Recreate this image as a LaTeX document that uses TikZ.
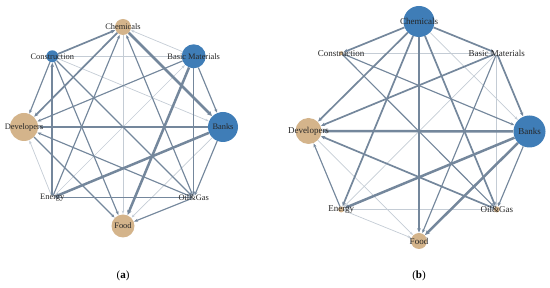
\documentclass[tikz,border=0pt]{standalone}
\usepackage{fontspec}
\setmainfont{Liberation Serif}
\usetikzlibrary{arrows.meta}
\definecolor{ntan}{HTML}{D4B48B}
\definecolor{nblue}{HTML}{3F7DB7}
\definecolor{edg}{HTML}{74879C}
\definecolor{elight}{HTML}{C4CCD5}
\begin{document}
\begin{tikzpicture}[x=1pt,y=-1pt,
  tn/.style={circle,fill=ntan,draw=none,inner sep=0pt,minimum size=#1},
  bn/.style={circle,fill=nblue,draw=none,inner sep=0pt,minimum size=#1},
  pn/.style={circle,draw=none,inner sep=0pt,minimum size=#1},
  lab/.style={inner sep=0pt,font=\fontsize{8.4}{10}\selectfont,text=black!85},
  labb/.style={inner sep=0pt,font=\fontsize{9}{11}\selectfont,text=black!85},
  e1/.style={draw=elight,line width=0.7pt,-{Stealth[length=3.5pt,width=2.6pt]},shorten >=0.3pt},
  e2/.style={draw=edg,line width=1.15pt,-{Stealth[length=3.8pt,width=3pt]},shorten >=0.3pt},
  e3/.style={draw=edg,line width=1.7pt,-{Stealth[length=4.2pt,width=3.6pt]},shorten >=0.3pt},
  e4/.style={draw=edg,line width=2.5pt,-{Stealth[length=4.8pt,width=4.4pt]},shorten >=0.3pt},
  capt/.style={inner sep=0pt,font=\fontsize{11}{13}\selectfont}]
\useasboundingbox (0,0) rectangle (550,288);
% ---------------- panel (a) ----------------
\node[tn=16pt] (aC)  at (123,27) {};
\node[bn=24pt] (aBM) at (193.7,56.3) {};
\node[bn=30pt] (aB)  at (223,127) {};
\node[pn=4pt]  (aO)  at (193.7,197.7) {};
\node[tn=23pt] (aF)  at (123,226) {};
\node[pn=4pt]  (aE)  at (52.3,197.7) {};
\node[tn=28pt] (aD)  at (24,127) {};
\node[bn=12pt] (aCo) at (52.3,56.3) {};
\begin{scope}
\draw[e1] (aCo) -- (aBM);
\draw[e1] (aCo) -- (aB);
\draw[e1] (aBM) -- (aC);
\draw[e1] (aC) -- (aF);
\draw[e1] (aE) -- (aBM);
\draw[e1] (aB) -- (aF);
\draw[e1] (aE) -- (aD);
\draw[e2] (aCo) -- (aO);
\draw[e2] (aCo) -- (aF);
\draw[e2] (aCo) -- (aD);
\draw[e2] (aO) -- (aC);
\draw[e2] (aE) -- (aC);
\draw[e2] (aBM) -- (aD);
\draw[e2] (aBM) -- (aB);
\draw[e2] (aBM) -- (aO);
\draw[e2] (aB) -- (aO);
\draw[e2] (aO) -- (aD);
\draw[e2] (aO) -- (aF);
\draw[e2] (aO) -- (aE);
\draw[e2] (aD) -- (aF);
\draw[e3] (aCo) -- (aC);
\draw[e3] (aE) -- (aCo);
\draw[e3] (aC) -- (aD);
\draw[e3] (aB) -- (aD);
\draw[e4] (aC) -- (aB);
\draw[e4] (aBM) -- (aF);
\draw[e4] (aB) -- (aE);
\end{scope}
\node[lab] (aCl)  at (aC)  {Chemicals};
\node[lab] (aBMl) at (aBM) {Basic Materials};
\node[lab] (aBl)  at (aB)  {Banks};
\node[lab] (aOl)  at (aO)  {Oil\&Gas};
\node[lab] (aFl)  at (aF)  {Food};
\node[lab] (aEl)  at (aE)  {Energy};
\node[lab] (aDl)  at (aD)  {Developers};
\node[lab] (aCol) at (aCo) {Construction};
\node[capt] (capa) at (123,276) {(\textbf{a})};
% ---------------- panel (b) ----------------
\node[bn=31pt] (bC)  at (419,21.5) {};
\node[pn=4pt]  (bBM) at (496.8,53.2) {};
\node[bn=32pt] (bB)  at (529.5,131.5) {};
\node[tn=6pt]  (bO)  at (496.8,209.5) {};
\node[tn=16pt] (bF)  at (419,241) {};
\node[tn=6pt]  (bE)  at (341.2,209.5) {};
\node[tn=26pt] (bD)  at (308.5,131) {};
\node[tn=4pt]  (bCo) at (341.2,53.2) {};
\begin{scope}
\draw[e1] (bC) -- (bB);
\draw[e1] (bCo) -- (bBM);
\draw[e1] (bBM) -- (bO);
\draw[e1] (bBM) -- (bE);
\draw[e1] (bD) -- (bF);
\draw[e1] (bE) -- (bF);
\draw[e1] (bE) -- (bO);
\draw[e2] (bCo) -- (bB);
\draw[e2] (bCo) -- (bO);
\draw[e2] (bBM) -- (bF);
\draw[e2] (bE) -- (bD);
\draw[e2] (bB) -- (bO);
\draw[e3] (bC) -- (bCo);
\draw[e3] (bC) -- (bD);
\draw[e3] (bC) -- (bE);
\draw[e3] (bC) -- (bF);
\draw[e3] (bC) -- (bO);
\draw[e3] (bC) -- (bBM);
\draw[e3] (bBM) -- (bD);
\draw[e3] (bBM) -- (bB);
\draw[e3] (bO) -- (bD);
\draw[e4] (bB) -- (bD);
\draw[e4] (bB) -- (bE);
\draw[e4] (bB) -- (bF);
\end{scope}
\node[labb] (bCl)  at (bC)  {Chemicals};
\node[labb] (bBMl) at (bBM) {Basic Materials};
\node[labb] (bBl)  at (bB)  {Banks};
\node[labb] (bOl)  at (bO)  {Oil\&Gas};
\node[labb] (bFl)  at (bF)  {Food};
\node[labb] (bEl)  at (bE)  {Energy};
\node[labb] (bDl)  at (bD)  {Developers};
\node[labb] (bCol) at (bCo) {Construction};
\node[capt] (capb) at (419,276) {(\textbf{b})};
\end{tikzpicture}
\end{document}
